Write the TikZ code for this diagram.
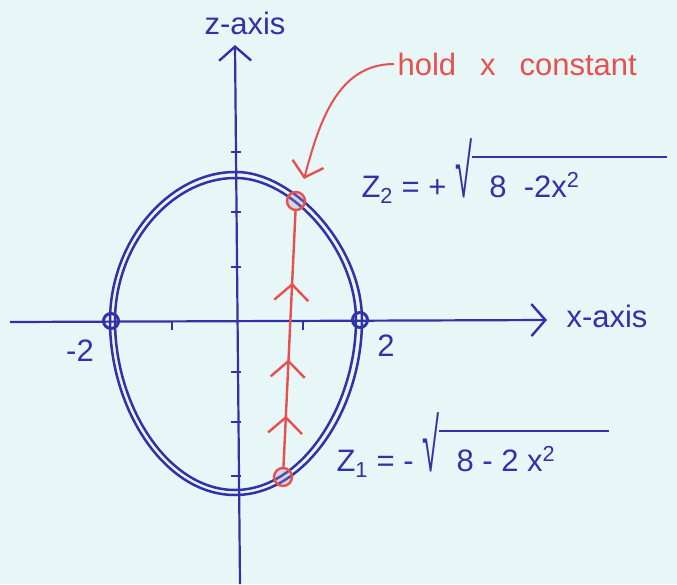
\documentclass[tikz,border=0pt]{standalone}
\usepackage{fontspec}
\setmainfont{Liberation Sans}
\usetikzlibrary{arrows.meta,positioning,calc,decorations.markings}

\definecolor{ink}{RGB}{50,50,168}
\definecolor{redink}{RGB}{232,80,80}
\definecolor{paper}{RGB}{231,246,247}

% radical sign with a long bar, as written by hand
\newcommand{\handroot}[2]{\scalebox{1}[2.4]{√}\raisebox{39.5pt}{\rlap{\rule{#1}{2pt}}}#2}

\begin{document}
\begin{tikzpicture}[
  x=1pt, y=-1pt,
  >={Straight Barb[length=14pt,width=32pt,line width=2.4pt]},
  every node/.style={font=\fontsize{31}{33}\selectfont, text=ink},
  axis/.style={draw=ink, line width=2.2pt},
  curve/.style={draw=ink, line width=2.5pt},
  hitpt/.style={circle, draw=ink, line width=3pt, minimum size=15pt, inner sep=0pt},
  endpt/.style={circle, draw=redink, line width=2.4pt, fill=redink!40!ink!60, fill opacity=0.3, minimum size=18pt, inner sep=0pt},
  tickmark/.style={draw=ink, line width=2.4pt},
  redtext/.style={text=redink},
  chev/.style={decoration={markings,
      mark=at position 0.2 with {\arrow{Straight Barb[length=16pt,width=34pt,line width=2.4pt]}},
      mark=at position 0.42 with {\arrow{Straight Barb[length=16pt,width=34pt,line width=2.4pt]}},
      mark=at position 0.72 with {\arrow{Straight Barb[length=16pt,width=34pt,line width=2.4pt]}}},
    postaction={decorate}},
]
  \fill[paper] (0,0) rectangle (677,584);
  \useasboundingbox (0,0) rectangle (677,584);

  % axes
  \coordinate (zbot) at (240,584);
  \coordinate (ztop) at (235,45);
  \coordinate (xleft) at (10,322);
  \coordinate (xright) at (547,320);
  \draw[axis, ->] (zbot) -- (ztop);
  \draw[axis, ->] (xleft) -- (xright);
  \node[anchor=south] (zlab) at (245,38) {z-axis};
  \node[anchor=west] (xlab) at (563,316) {x-axis};

  % ticks
  \foreach \ty in {152,212,267,372,422,476}
    \draw[tickmark] (231,\ty) -- (241,\ty);
  \foreach \tx in {172,303}
    \draw[tickmark] (\tx,322) -- (\tx,330);

  % the ellipse, drawn twice by hand
  \draw[curve] (235,172) .. controls (292,171) and (362,245) .. (362,320)
    .. controls (362,410) and (305,495) .. (235,495)
    .. controls (165,495) and (110,410) .. (110,321)
    .. controls (110,240) and (170,172) .. (235,172) -- cycle;
  \draw[curve] (235,178) .. controls (290,177) and (356,248) .. (356,320)
    .. controls (356,405) and (302,490) .. (235,490)
    .. controls (168,490) and (115,406) .. (115,321)
    .. controls (115,244) and (172,178) .. (235,178) -- cycle;

  % intercepts
  \node[hitpt] (xneg) at (111,321) {};
  \node[hitpt] (xpos) at (360,320) {};
  \node (mtwo) at (80,351) {-2};
  \node (two) at (386,346) {2};

  % the vertical segment at fixed x
  \node[endpt] (zone) at (283,477) {};
  \node[endpt] (ztwo) at (296,201) {};
  \draw[redink, line width=2.4pt, chev] (zone) -- (ztwo);

  % labels
  \node[redtext, anchor=west] (hold) at (394,64) {hold\hspace{24pt}x\hspace{24pt}constant};
  \coordinate (aim) at (304,179);
  \draw[redink, line width=2pt, ->] (hold.west) to[out=180, in=75] (aim);

  \node[anchor=base west] (eqtwo) at (358,197)
    {Z\textsubscript{2} = + \handroot{195pt}{\ \ 8\ \ -2x\textsuperscript{2}}};
  \node[anchor=base west] (eqone) at (333,471)
    {Z\textsubscript{1} = - \handroot{170pt}{\ \ 8 - 2 x\textsuperscript{2}}};
\end{tikzpicture}
\end{document}
